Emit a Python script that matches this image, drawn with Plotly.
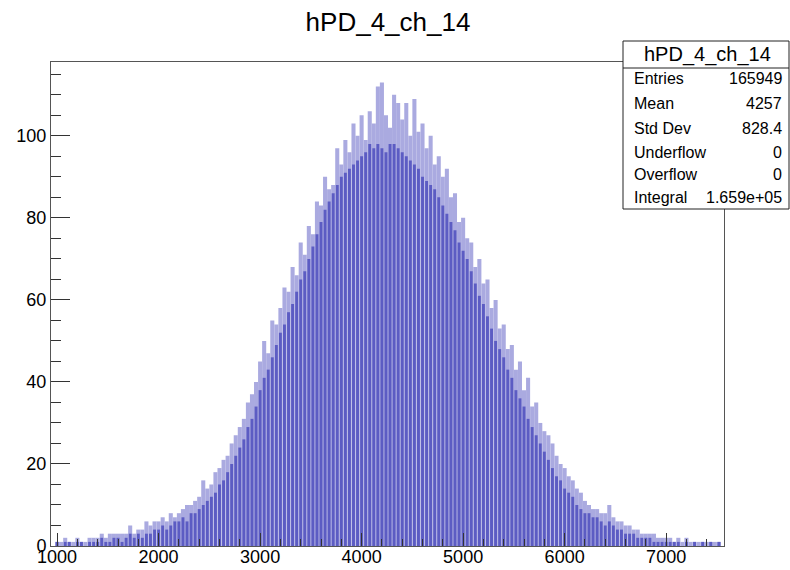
import plotly.graph_objects as go

# ---------------- data ----------------
bin_start = 1000      # centre of first displayed bin
bin_width = 40        # display bin width (ADC units)

# dense (dark) level of the histogram in each display bin
body_counts = [
    1, 0, 1, 1, 0,        # 1000-1160
    1, 1, 0, 1, 1,        # 1200-1360
    1, 2, 1, 1, 2,        # 1400-1560
    2, 1, 2, 3, 2,        # 1600-1760
    3, 2, 3, 3, 4,        # 1800-1960
    4, 5, 4, 5, 6,        # 2000-2160
    6, 7, 6, 8, 8,        # 2200-2360
    9, 10, 11, 12, 13,    # 2400-2560
    15, 16, 18, 20, 22,   # 2600-2760
    24, 26, 29, 31, 34,   # 2800-2960
    38, 41, 43, 46, 49,   # 3000-3160
    52, 54, 57, 59, 62,   # 3200-3360
    65, 67, 70, 73, 76,   # 3400-3560
    79, 82, 84, 86, 88,   # 3600-3760
    90, 91, 92, 93, 94,   # 3800-3960
    95, 96, 98, 97, 98,   # 4000-4160
    97, 96, 98, 98, 97,   # 4200-4360
    96, 95, 94, 93, 92,   # 4400-4560
    90, 89, 88, 87, 85,   # 4600-4760
    83, 81, 79, 77, 74,   # 4800-4960
    72, 70, 67, 64, 61,   # 5000-5160
    59, 56, 53, 50, 48,   # 5200-5360
    46, 43, 41, 38, 36,   # 5400-5560
    34, 31, 29, 27, 25,   # 5600-5760
    23, 21, 19, 17, 16,   # 5800-5960
    14, 13, 12, 10, 9,    # 6000-6160
    8, 8, 7, 7, 6,        # 6200-6360
    5, 6, 5, 4, 4,        # 6400-6560
    3, 3, 3, 2, 2,        # 6600-6760
    2, 2, 1, 1, 1,        # 6800-6960
    1, 1, 1, 1, 0,        # 7000-7160
    1, 0, 1, 0, 1,        # 7200-7360
    0, 1, 0, 1,           # 7400-7520
]

# highest bin (light spikes) in each display bin
peak_counts = [
    1, 1, 2, 1, 1,
    2, 1, 1, 2, 2,
    2, 3, 2, 3, 3,
    3, 3, 3, 5, 3,
    4, 4, 6, 5, 6,
    6, 7, 6, 8, 7,
    8, 9, 10, 10, 11,
    12, 16, 14, 15, 18,
    19, 21, 22, 25, 27,
    29, 31, 35, 37, 40,
    45, 50, 47, 55, 54,
    58, 63, 62, 68, 66,
    74, 71, 78, 76, 84,
    83, 90, 87, 88, 97,
    93, 99, 96, 103, 100,
    105, 99, 106, 103, 112,
    113, 105, 102, 110, 108,
    104, 108, 100, 109, 101,
    103, 97, 100, 93, 95,
    90, 92, 85, 86, 79,
    80, 75, 74, 68, 70,
    64, 65, 58, 60, 53,
    54, 48, 49, 43, 45,
    38, 41, 34, 35, 30,
    28, 27, 25, 22, 20,
    19, 17, 16, 14, 13,
    11, 10, 9, 9, 8,
    8, 10, 7, 6, 6,
    5, 5, 4, 4, 3,
    3, 3, 3, 2, 2,
    2, 2, 1, 2, 1,
    2, 1, 1, 1, 1,
    1, 1, 1, 1,
]

x_ticks = [1000, 2000, 3000, 4000, 5000, 6000, 7000]
y_ticks = [0, 20, 40, 60, 80, 100]

hist_name = "hPD_4_ch_14"
stat_labels = ["Entries", "Mean", "Std Dev", "Underflow", "Overflow", "Integral"]
stat_values = ["165949", "4257", "828.4", "0", "0", "1.659e+05"]

# ---------------- figure ----------------
centers = [bin_start + bin_width * i for i in range(len(body_counts))]

FONT = "Liberation Sans, Arial, Helvetica, sans-serif"
LIGHT = "#aaaae0"
DARK = "#5c5cc3"

fig = go.Figure()
fig.add_trace(go.Bar(x=centers, y=peak_counts, width=bin_width,
                     marker=dict(color=LIGHT, line=dict(width=0)),
                     hoverinfo="skip", showlegend=False))
fig.add_trace(go.Bar(x=centers, y=body_counts, width=bin_width * 0.72,
                     marker=dict(color=DARK, line=dict(width=0)),
                     hoverinfo="skip", showlegend=False))

L, R, T, B = 51, 66, 62, 24
W, H = 790, 570
pw, ph = W - L - R, H - T - B

def px(x):
    return (x - L) / pw

def py(y):
    return (H - B - y) / ph

fig.update_layout(
    width=W, height=H,
    margin=dict(l=L, r=R, t=T, b=B, pad=0),
    paper_bgcolor="white", plot_bgcolor="white",
    barmode="overlay",
    font=dict(family=FONT, color="black"),
    title=dict(text=hist_name, x=388 / W, xanchor="center",
               y=1 - 22 / H, yanchor="middle",
               font=dict(size=26, family=FONT, color="black")),
    xaxis=dict(range=[940, 7570], tickvals=x_ticks, automargin=False,
               ticks="inside", ticklen=13, tickwidth=1, tickcolor="#333",
               minor=dict(dtick=200, tick0=1000, ticks="inside", ticklen=7,
                          tickcolor="#333", showgrid=False),
               showgrid=False, zeroline=False,
               showline=True, mirror=True, linecolor="#555", linewidth=1,
               ticklabelstandoff=-6,
               tickfont=dict(size=18, family=FONT, color="black")),
    yaxis=dict(range=[0, 118], tickvals=y_ticks, automargin=False,
               ticks="inside", ticklen=19, tickwidth=1, tickcolor="#333",
               minor=dict(dtick=5, tick0=0, ticks="inside", ticklen=10,
                          tickcolor="#333", showgrid=False),
               showgrid=False, zeroline=False,
               showline=True, mirror=True, linecolor="#555", linewidth=1,
               tickfont=dict(size=18, family=FONT, color="black")),
)

# stats box
bx0, bx1 = px(623), px(789)
by_top, by_div, by_bot = py(41), py(68), py(209)
fig.add_shape(type="rect", xref="paper", yref="paper",
              x0=bx0, x1=bx1, y0=by_bot, y1=by_top,
              line=dict(color="#222", width=1), fillcolor="white", layer="above")
fig.add_shape(type="line", xref="paper", yref="paper",
              x0=bx0, x1=bx1, y0=by_div, y1=by_div,
              line=dict(color="#222", width=1), layer="above")
fig.add_annotation(xref="paper", yref="paper", x=px(707), y=py(54),
                   text=hist_name, showarrow=False, xanchor="center",
                   yanchor="middle", font=dict(size=20, family=FONT, color="black"))
row_y = [78, 103, 128, 152, 174, 198]
for lab, val, yy in zip(stat_labels, stat_values, row_y):
    fig.add_annotation(xref="paper", yref="paper", x=px(632), y=py(yy),
                       text=lab, showarrow=False, xanchor="left", yanchor="middle",
                       font=dict(size=16, family=FONT, color="black"))
    fig.add_annotation(xref="paper", yref="paper", x=px(784), y=py(yy),
                       text=val, showarrow=False, xanchor="right", yanchor="middle",
                       font=dict(size=16, family=FONT, color="black"))

fig.write_html("out.html")
